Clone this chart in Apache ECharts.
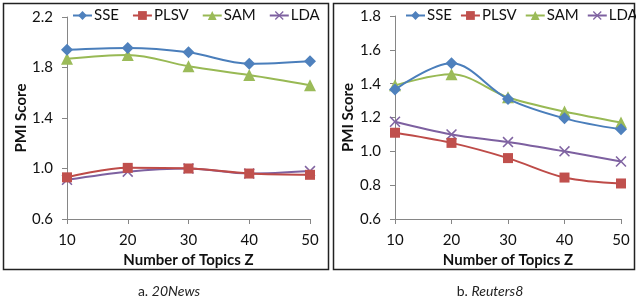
<!DOCTYPE html>
<html>
<head>
<meta charset="utf-8">
<script src="https://cdn.jsdelivr.net/npm/echarts@6/dist/echarts.min.js"></script>
<style>
  html,body{margin:0;padding:0;background:#fff;}
  #chart{width:636px;height:300px;}
</style>
</head>
<body>
<div id="chart"></div>
<script>
// values
const topics = ['10', '20', '30', '40', '50'];
const seriesNames = ['SSE', 'PLSV', 'SAM', 'LDA'];

const newsSSE  = [1.94, 1.955, 1.92, 1.83, 1.85];
const newsPLSV = [0.93, 1.005, 1.0, 0.96, 0.95];
const newsSAM  = [1.87, 1.90, 1.81, 1.74, 1.66];
const newsLDA  = [0.91, 0.975, 1.0, 0.96, 0.98];

const reutSSE  = [1.365, 1.52, 1.31, 1.195, 1.13];
const reutPLSV = [1.11, 1.05, 0.96, 0.845, 0.81];
const reutSAM  = [1.39, 1.455, 1.32, 1.235, 1.17];
const reutLDA  = [1.175, 1.10, 1.055, 1.0, 0.94];

const FONT = 'Lato';
const lineColors = ['#4A7EBB', '#BE4B48', '#98B954', '#7D60A0'];
const markColors = ['#4F81BD', '#C0504D', '#9BBB59', '#8064A2'];
const crossPath = 'path://M0,1L1,0L5,4L9,0L10,1L6,5L10,9L9,10L5,6L1,10L0,9L4,5Z';
const symbols = ['diamond', 'rect', 'triangle', crossPath];
const symSizes = [12, 10, 12, 11];

var myChart = echarts.init(document.getElementById('chart'));

function makeSeries(data, idx, gridIdx) {
    return {
        name: seriesNames[idx],
        type: 'line',
        xAxisIndex: gridIdx,
        yAxisIndex: gridIdx,
        data: data,
        smooth: 0.35,
        symbol: symbols[idx],
        symbolSize: symSizes[idx],
        showAllSymbol: true,
        lineStyle: {color: lineColors[idx], width: 2},
        itemStyle: {color: markColors[idx], borderWidth: 0},
        emphasis: {disabled: true},
        z: 10 - idx
    };
}

function xAxisOf(gridIdx) {
    return {
        type: 'category',
        gridIndex: gridIdx,
        data: topics,
        boundaryGap: false,
        axisLine: {lineStyle: {color: '#868686', width: 1}},
        axisTick: {alignWithLabel: true, length: 5, lineStyle: {color: '#868686'}},
        axisLabel: {color: '#111', fontFamily: FONT, fontSize: 15, margin: 14},
        name: 'Number of Topics Z',
        nameLocation: 'middle',
        nameGap: 31,
        nameTextStyle: {color: '#111', fontFamily: FONT, fontSize: 15, fontWeight: 'bold'}
    };
}

function yAxisOf(gridIdx, min, max, step, gap) {
    return {
        type: 'value',
        gridIndex: gridIdx,
        min: min,
        max: max,
        interval: step,
        splitLine: {show: false},
        axisLine: {show: true, lineStyle: {color: '#868686', width: 1}},
        axisTick: {show: true, length: 5, lineStyle: {color: '#868686'}},
        axisLabel: {color: '#111', fontFamily: FONT, fontSize: 15, margin: 14,
            formatter: function (v) { return v.toFixed(1); }},
        name: 'PMI Score',
        nameLocation: 'middle',
        nameGap: gap,
        nameTextStyle: {color: '#111', fontFamily: FONT, fontSize: 15, fontWeight: 'bold'}
    };
}

function legendOf(left, gap) {
    return {
        data: seriesNames,
        left: left,
        top: 8,
        width: 300,
        padding: 0,
        itemWidth: 19,
        itemHeight: 11,
        itemGap: gap,
        selectedMode: false,
        textStyle: {color: '#111', fontFamily: FONT, fontSize: 15, padding: [0, 0, 0, -3]}
    };
}

const captionRich = {
    n: {fontFamily: FONT, fontSize: 14, color: '#222', fontWeight: 'normal'},
    i: {fontFamily: FONT, fontSize: 14, color: '#222', fontWeight: 'normal', fontStyle: 'italic'}
};

var option = {
    animation: false,
    backgroundColor: '#fff',
    title: [
        {text: '{n|a. }{i|20News}', left: 164, top: 279, textAlign: 'center',
            textStyle: {fontWeight: 'normal', rich: captionRich}},
        {text: '{n|b. }{i|Reuters8}', left: 485, top: 279, textAlign: 'center',
            textStyle: {fontWeight: 'normal', rich: captionRich}}
    ],
    legend: [legendOf(72, 13), legendOf(405, 8)],
    grid: [
        {left: 67, right: 326, top: 17, bottom: 81},
        {left: 395, right: 15, top: 16, bottom: 81}
    ],
    xAxis: [xAxisOf(0), xAxisOf(1)],
    yAxis: [yAxisOf(0, 0.6, 2.2, 0.4, 37), yAxisOf(1, 0.6, 1.8, 0.2, 39)],
    graphic: [
        {type: 'rect', shape: {x: 3.5, y: 3.5, width: 325, height: 266},
            style: {fill: 'none', stroke: '#222', lineWidth: 1.5}},
        {type: 'rect', shape: {x: 333.5, y: 3.5, width: 301, height: 266},
            style: {fill: 'none', stroke: '#222', lineWidth: 1.5}}
    ],
    series: [
        makeSeries(newsSSE, 0, 0),
        makeSeries(newsPLSV, 1, 0),
        makeSeries(newsSAM, 2, 0),
        makeSeries(newsLDA, 3, 0),
        makeSeries(reutSSE, 0, 1),
        makeSeries(reutPLSV, 1, 1),
        makeSeries(reutSAM, 2, 1),
        makeSeries(reutLDA, 3, 1)
    ]
};

myChart.setOption(option);
</script>
</body>
</html>
